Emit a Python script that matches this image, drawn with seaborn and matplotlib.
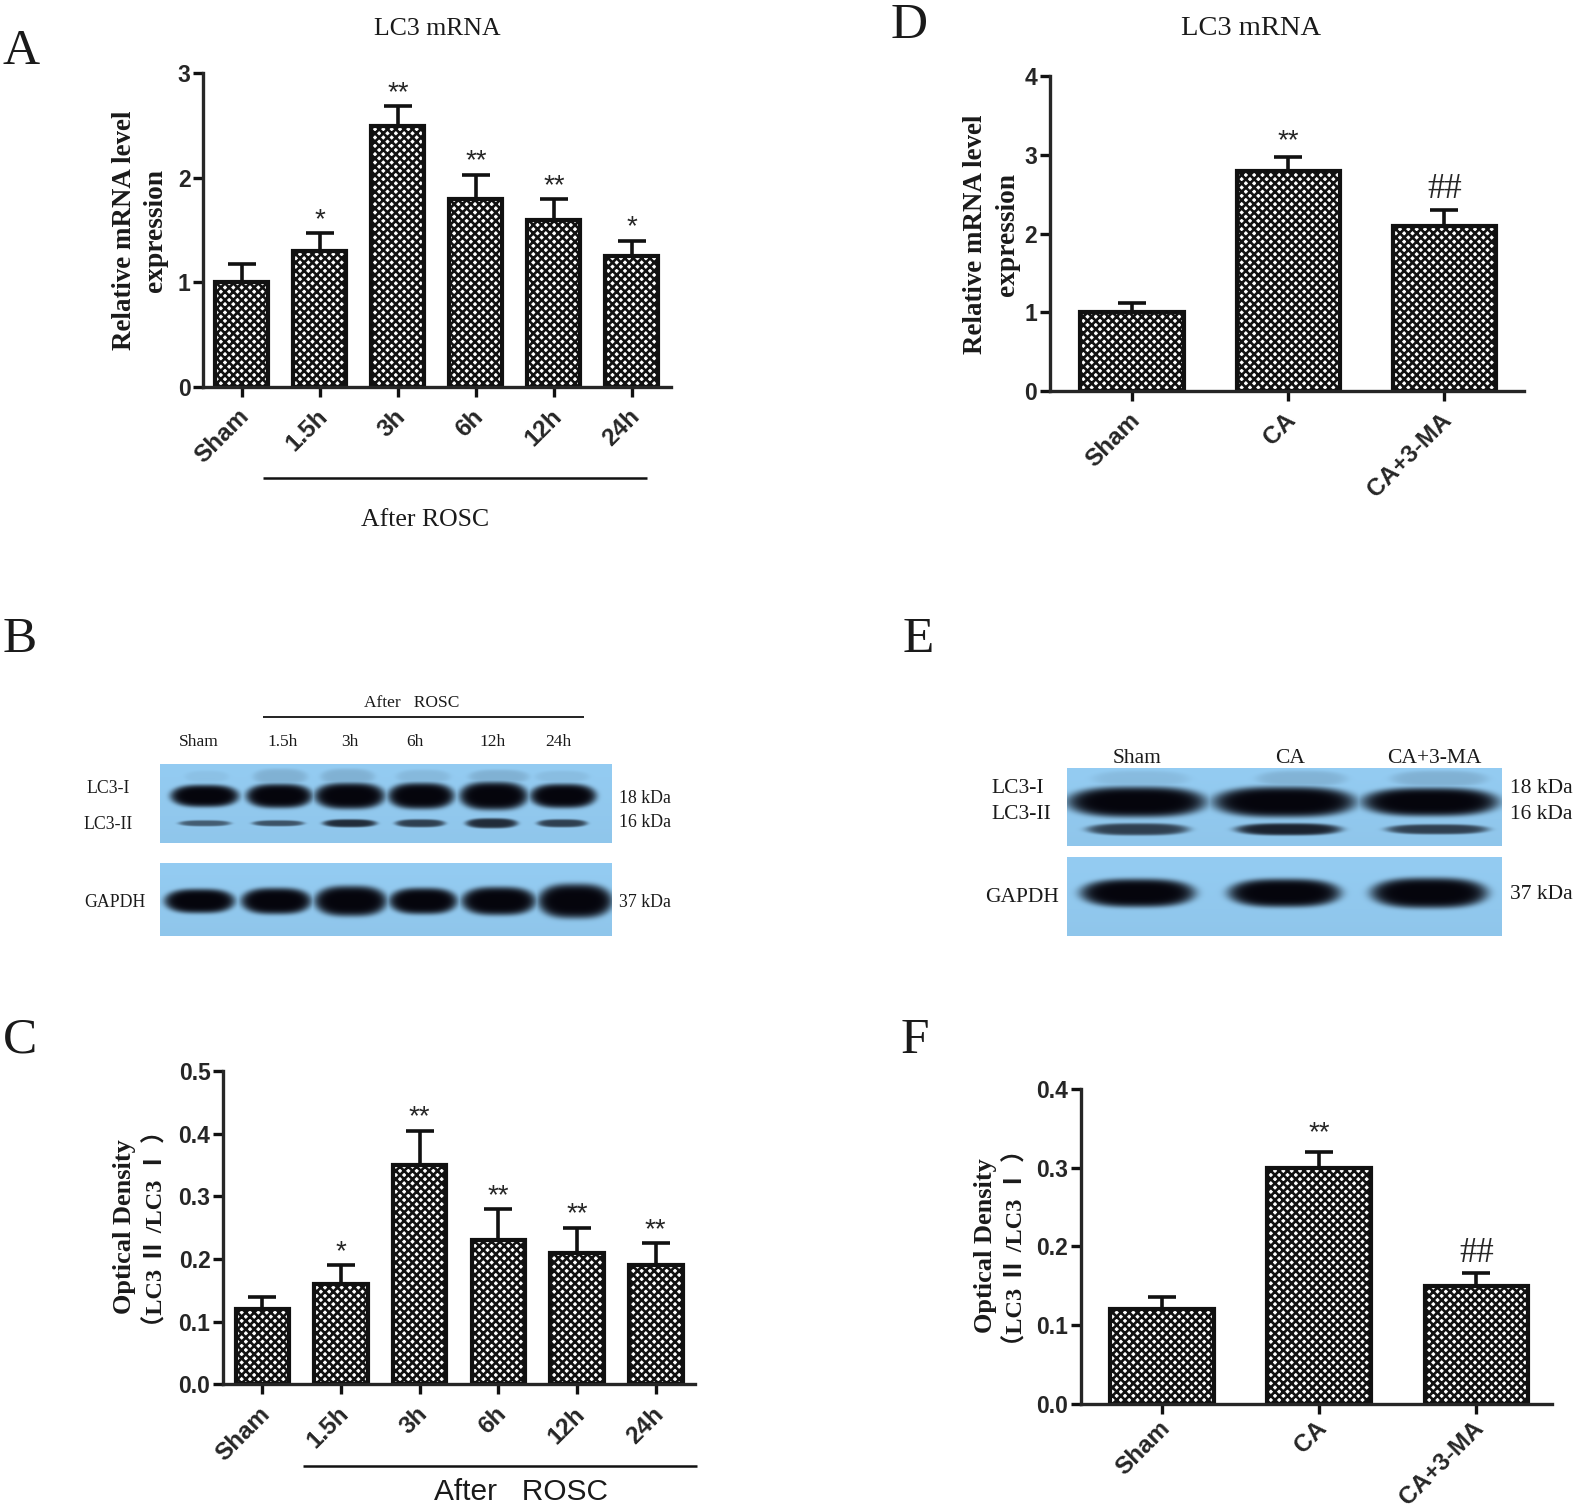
# ------------------- Importing Libraries --------------------
import numpy as np
import pandas as pd
import seaborn as sns
import matplotlib
matplotlib.use("Agg")
import matplotlib.pyplot as plt
from matplotlib.transforms import ScaledTranslation

# ------------------- Data --------------------
time_groups = ["Sham", "1.5h", "3h", "6h", "12h", "24h"]
treat_groups = ["Sham", "CA", "CA+3-MA"]

a_values = [1.0, 1.3, 2.5, 1.8, 1.6, 1.25]
a_errors = [0.18, 0.17, 0.19, 0.23, 0.20, 0.15]
a_marks = ["", "*", "**", "**", "**", "*"]

d_values = [1.0, 2.8, 2.1]
d_errors = [0.12, 0.17, 0.20]
d_marks = ["", "**", "##"]

c_values = [0.12, 0.16, 0.35, 0.23, 0.21, 0.19]
c_errors = [0.02, 0.03, 0.055, 0.05, 0.04, 0.036]
c_marks = ["", "*", "**", "**", "**", "**"]

f_values = [0.12, 0.30, 0.15]
f_errors = [0.015, 0.02, 0.016]
f_marks = ["", "**", "##"]

a_ticks = [0, 1, 2, 3]
d_ticks = [0, 1, 2, 3, 4]
c_ticks = [0.0, 0.1, 0.2, 0.3, 0.4, 0.5]
f_ticks = [0.0, 0.1, 0.2, 0.3, 0.4]

# blot bands: centre x, half width, half height, strength (pixels of the reference)
b_lc3_1 = [(203, 34, 11, 1), (277, 33, 12, 1), (347, 35, 13, 1), (418, 33, 13, 1), (490, 34, 14, 1), (559, 33, 12, 1)]
b_lc3_2 = [(203, 26, 3, .55), (276, 26, 3, .6), (347, 27, 4, .8), (417, 25, 4, .7), (488, 26, 5, .8), (558, 25, 4, .7)]
b_smear = [(205, 22, 6, .05), (278, 27, 8, .13), (345, 27, 8, .13), (420, 27, 7, .09), (495, 30, 7, .13), (558, 27, 6, .07)]
b_gapdh = [(198, 35, 12, 1), (274, 35, 13, 1), (348, 36, 15, 1), (420, 34, 13, 1), (495, 37, 14, 1), (571, 37, 17, 1)]
e_lc3_1 = [(1131, 69, 15, 1), (1278, 71, 15, 1), (1423, 68, 14, 1)]
e_lc3_2 = [(1132, 51, 6, .7), (1282, 53, 6, .85), (1430, 51, 5, .7)]
e_smear = [(1135, 48, 8, .08), (1295, 45, 8, .12), (1432, 48, 8, .13)]
e_gapdh = [(1132, 57, 14, 1), (1278, 56, 14, 1), (1422, 58, 15, 1)]

# ------------------- Helpers --------------------
W, H = 1568, 1504
BLOT_BLUE = np.array([0.58, 0.80, 0.95])
BLOT_DARK = np.array([0.02, 0.02, 0.05])
SERIF = ["Liberation Serif", "Noto Sans CJK SC", "DejaVu Sans"]
SANS = ["Liberation Sans", "DejaVu Sans"]


def box(left, top, right, bottom):
    return [left / W, 1 - bottom / H, (right - left) / W, (bottom - top) / H]


# Function to draw one bar panel from its value lists
def bar_panel(fig, rect, groups, values, errors, marks, ticks, ymax, fmt, xlim, bar_width, star_pad, hash_pad, xpad=6):
    ax = fig.add_axes(box(*rect))
    df = pd.DataFrame({"group": groups, "value": values})
    positions = np.arange(len(groups))
    ax.errorbar(positions, values, yerr=[np.zeros(len(values)), errors], fmt="none",
                ecolor="#111111", elinewidth=2.6, capsize=10, capthick=2.6, zorder=1)
    sns.barplot(data=df, x="group", y="value", ax=ax, color="white", saturation=1,
                width=bar_width, errorbar=None, edgecolor="#111111", linewidth=3,
                hatch="xxxx", zorder=2)
    ax.set_xlim(*xlim)
    ax.set_ylim(0, ymax)
    ax.set_yticks(ticks)
    ax.set_yticklabels([fmt.format(t) for t in ticks], fontsize=16.5, fontweight="bold", family=SANS)
    ax.set_xticks(positions)
    ax.set_xticklabels(groups, fontsize=17.5, fontweight="bold", family=SANS, rotation=45,
                       ha="right", va="top", rotation_mode="anchor")
    ax.tick_params(axis="y", length=7, width=2.4, color="#111111", pad=2)
    ax.tick_params(axis="x", length=7, width=2.4, color="#111111", pad=xpad)
    # nudge the slanted labels to the left of their ticks
    for label in ax.get_xticklabels():
        label.set_transform(label.get_transform() + ScaledTranslation(-3 / 72, 0, fig.dpi_scale_trans))
    ax.set_xlabel("")
    ax.set_ylabel("")
    sns.despine(ax=ax)
    ax.spines["left"].set_linewidth(2.4)
    ax.spines["bottom"].set_linewidth(2.4)
    ax.patch.set_alpha(0)

    for pos, val, err, mark in zip(positions, values, errors, marks):
        if mark == "**" or mark == "*":
            ax.annotate(mark, (pos, val + err), xytext=(0, star_pad), textcoords="offset points",
                        ha="center", va="bottom", fontsize=20, family=SANS)
        elif mark:
            ax.annotate(mark, (pos, val + err), xytext=(0, hash_pad), textcoords="offset points",
                        ha="center", va="bottom", fontsize=25, family=SERIF)
    return ax


# Function to paint a blot strip from its band list
def blot(fig, rect, rows):
    left, top, right, bottom = rect
    ax = fig.add_axes(box(*rect))
    xx, yy = np.meshgrid(np.arange(left, right), np.arange(top, bottom))
    dark = np.zeros(xx.shape)
    for y0, bands in rows:
        for x0, hw, hh, strength in bands:
            d = (np.abs(xx - x0) / hw) ** 3 + (np.abs(yy - y0) / hh) ** 2
            dark = np.maximum(dark, strength * np.exp(-d ** 3))
    # lighter top edge of the film
    shade = 1 - 0.03 * (yy - top) / (bottom - top)
    img = (BLOT_BLUE[None, None, :] * shade[..., None]) * (1 - dark[..., None]) + BLOT_DARK * dark[..., None]
    ax.imshow(np.clip(img, 0, 1), aspect="auto", interpolation="bilinear")
    ax.axis("off")


# ------------------- Figure --------------------
sns.set_theme(style="ticks")
plt.rcParams["font.family"] = SANS
plt.rcParams["hatch.linewidth"] = 1.9

fig = plt.figure(figsize=(15.75, 15.11), dpi=100)
fig.patch.set_facecolor("white")

bar_panel(fig, (202, 73, 668, 385), time_groups, a_values, a_errors, a_marks, a_ticks, 3, "{:d}",
          (-0.5, 5.5), 0.68, 0, 0)
bar_panel(fig, (1045, 76, 1517, 389), treat_groups, d_values, d_errors, d_marks, d_ticks, 4, "{:d}",
          (-0.527, 2.508), 0.66, 2, 3)
bar_panel(fig, (222, 1066, 692, 1378), time_groups, c_values, c_errors, c_marks, c_ticks, 0.5, "{:.1f}",
          (-0.5, 5.5), 0.68, 0, 0)
bar_panel(fig, (1076, 1084, 1545, 1397), treat_groups, f_values, f_errors, f_marks, f_ticks, 0.4, "{:.1f}",
          (-0.518, 2.48), 0.66, 4, 2, xpad=2.5)

blot(fig, (159, 760, 608, 839), [(773, b_smear), (792, b_lc3_1), (819, b_lc3_2)])
blot(fig, (159, 859, 608, 932), [(897, b_gapdh)])
blot(fig, (1062, 764, 1495, 842), [(775, e_smear), (798, e_lc3_1), (825, e_lc3_2)])
blot(fig, (1062, 853, 1495, 932), [(889, e_gapdh)])

# overlay in reference pixels for the free text and rules
top = fig.add_axes([0, 0, 1, 1])
top.set_xlim(0, W)
top.set_ylim(H, 0)
top.axis("off")
top.patch.set_alpha(0)


def serif(x, y, s, size, **kw):
    shift = 0 if "rotation" in kw else 2.5
    top.text(x, y + shift, s, fontsize=size, family=SERIF, ha="center", va="center", color="#1a1a1a", **kw)


for letter, x, y in [("A", 21, 49), ("D", 905, 23), ("B", 20, 634), ("E", 914, 634), ("C", 20, 1033), ("F", 911, 1033)]:
    serif(x, y, letter, 37)

serif(435, 26, "LC3 mRNA", 18.5)
serif(1246, 26, "LC3 mRNA", 20.5)
serif(423, 515, "After ROSC", 18.5)
top.text(519, 1485, "After   ROSC", fontsize=21.5, family=SANS, ha="center", va="center", color="#1a1a1a")

for x1, x2, y, lw in [(262, 644, 476, 1.8), (302, 694, 1459, 1.8), (262, 581, 714, 1.3)]:
    top.plot([x1, x2], [y, y], color="#111111", lw=lw, solid_capstyle="butt")

for x, y, s, size in [(124, 229, "Relative mRNA level", 19.4), (155, 229, "expression", 19.8),
                      (971, 233, "Relative mRNA level", 19.4), (1003, 233, "expression", 19.8),
                      (124, 1221, "Optical Density", 19), (155, 1223, "（LC3 Ⅱ /LC3 Ⅰ ）", 17.5),
                      (981, 1240, "Optical Density", 19), (1011, 1242, "（LC3 Ⅱ /LC3 Ⅰ ）", 17.5)]:
    serif(x, y, s, size, rotation=90, fontweight="bold")

# blot labels
serif(410, 697, "After   ROSC", 12.5)
for x, s in zip([198, 281, 348, 413, 490, 556], time_groups):
    serif(x, 736, s, 12.5)
for x, y, s in [(108, 782, "LC3-I"), (108, 818, "LC3-II"), (114, 896, "GAPDH"),
                (642, 792, "18 kDa"), (642, 816, "16 kDa"), (642, 896, "37 kDa")]:
    serif(x, y, s, 12.8)
for x, s in zip([1132, 1284, 1428], treat_groups):
    serif(x, 752, s, 15.5)
for x, y, s in [(1013, 782, "LC3-I"), (1017, 808, "LC3-II"), (1017, 891, "GAPDH"),
                (1534, 782, "18 kDa"), (1534, 808, "16 kDa"), (1534, 888, "37 kDa")]:
    serif(x, y, s, 15.5)

fig.savefig("out.png", dpi=100)
